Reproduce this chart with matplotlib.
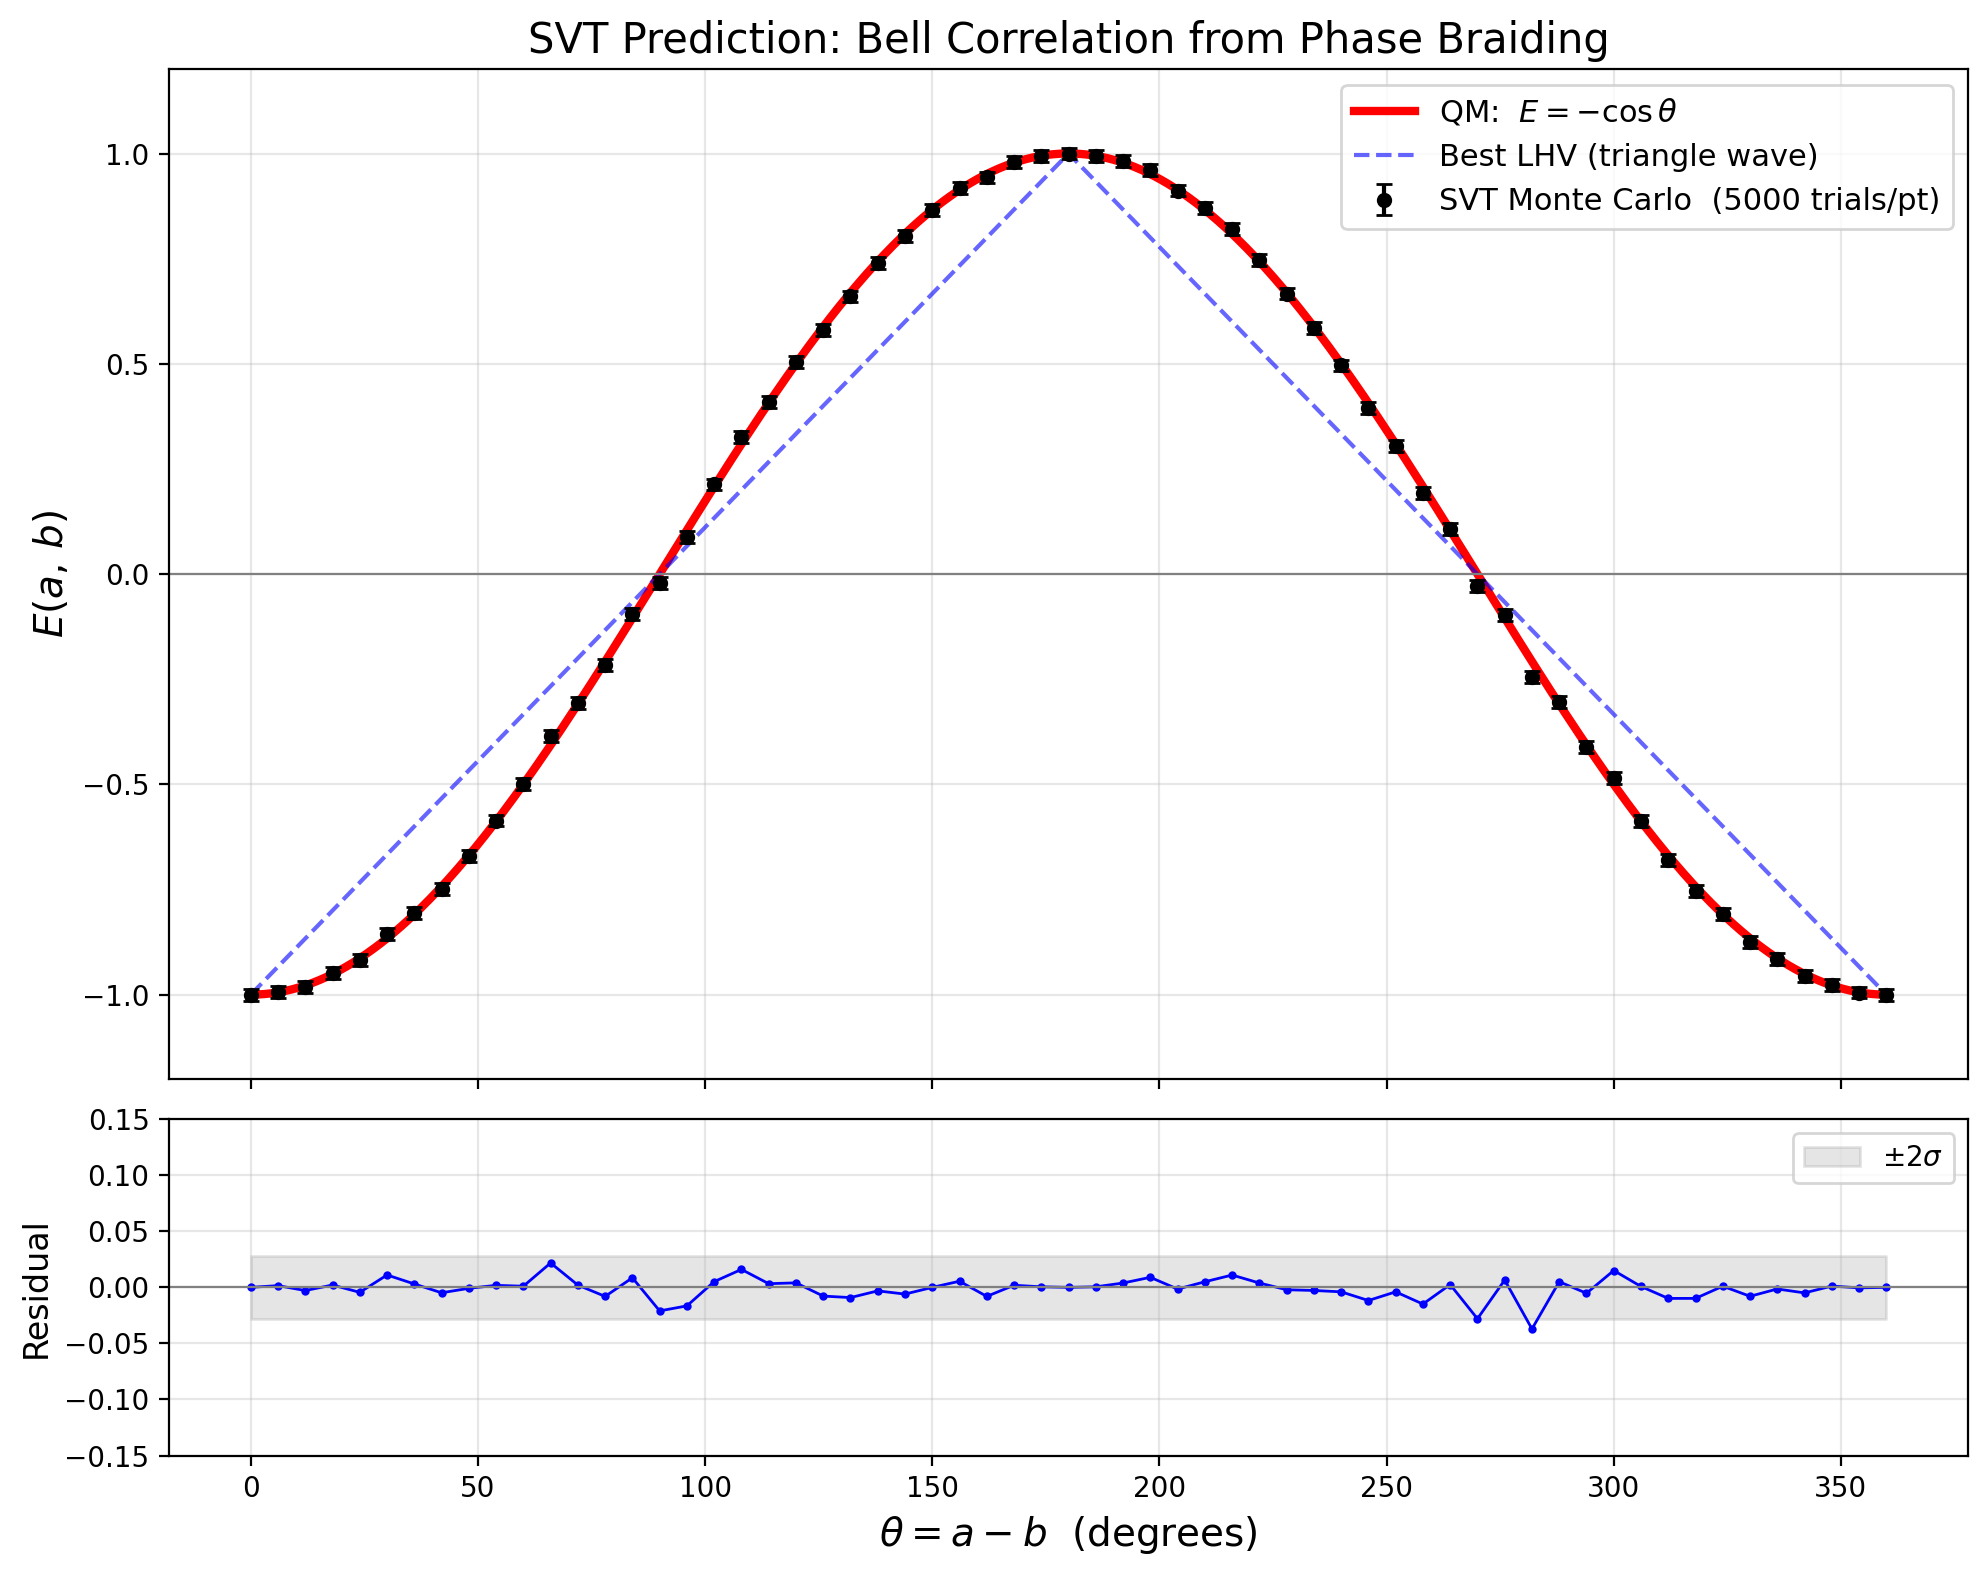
import numpy as np
import matplotlib
matplotlib.use("Agg")
import matplotlib.pyplot as plt

theta_pts = np.arange(0, 361, 6)
E_svt = [-1.000, -0.993, -0.981, -0.949, -0.918, -0.855, -0.806, -0.748, -0.670, -0.586,
         -0.499, -0.385, -0.307, -0.216, -0.096, -0.021, 0.088, 0.213, 0.325, 0.410,
         0.504, 0.580, 0.660, 0.740, 0.803, 0.866, 0.919, 0.943, 0.980, 0.995,
         1.000, 0.995, 0.982, 0.960, 0.912, 0.871, 0.820, 0.747, 0.667, 0.585,
         0.496, 0.395, 0.305, 0.193, 0.107, -0.028, -0.098, -0.245, -0.304, -0.412,
         -0.485, -0.587, -0.679, -0.753, -0.808, -0.874, -0.915, -0.956, -0.977, -0.995,
         -1.000]
n_trials = 5000
sigma = 1.0 / np.sqrt(n_trials)

# best local hidden variable model: triangle wave corners
lhv_theta = [0, 180, 360]
lhv_E = [-1, 1, -1]

theta_fine = np.linspace(0, 360, 721)
E_qm = -np.cos(np.radians(theta_fine))
E_svt = np.array(E_svt)
resid = E_svt - (-np.cos(np.radians(theta_pts)))

fig = plt.figure(figsize=(9.94, 7.885), dpi=200)
gs = fig.add_gridspec(2, 1, height_ratios=[3, 1], hspace=0.06,
                      left=0.085, right=0.99, top=0.956, bottom=0.077)
ax = fig.add_subplot(gs[0])
axr = fig.add_subplot(gs[1], sharex=ax)

ax.plot(theta_fine, E_qm, color='red', lw=3, label=r'QM:  $E = -\cos\theta$')
ax.plot(lhv_theta, lhv_E, '--', color='blue', alpha=0.6, lw=1.5,
        label='Best LHV (triangle wave)')
ax.errorbar(theta_pts, E_svt, yerr=sigma, fmt='o', color='black', ms=4.5,
            capsize=3, zorder=5, label='SVT Monte Carlo  (5000 trials/pt)')
ax.axhline(0, color='gray', lw=0.8)
ax.set_ylim(-1.2, 1.2)
ax.set_yticks([-1.0, -0.5, 0.0, 0.5, 1.0])
ax.set_ylabel(r'$E(a,\,b)$', fontsize=14)
ax.set_title('SVT Prediction: Bell Correlation from Phase Braiding', fontsize=15)
ax.legend(loc='upper right', fontsize=11)
ax.grid(True, alpha=0.3)
plt.setp(ax.get_xticklabels(), visible=False)

axr.fill_between(theta_pts, -2 * sigma, 2 * sigma, color='gray', alpha=0.2,
                 label=r'$\pm 2\sigma$')
axr.plot(theta_pts, resid, 'b.-', ms=4, lw=1)
axr.axhline(0, color='gray', lw=0.8)
axr.set_ylim(-0.15, 0.15)
axr.set_yticks(np.arange(-0.15, 0.151, 0.05))
axr.set_ylabel('Residual', fontsize=12)
axr.set_xlabel(r'$\theta = a - b$  (degrees)', fontsize=14)
axr.legend(loc='upper right', fontsize=10)
axr.grid(True, alpha=0.3)

fig.savefig('out.png', dpi=200)
